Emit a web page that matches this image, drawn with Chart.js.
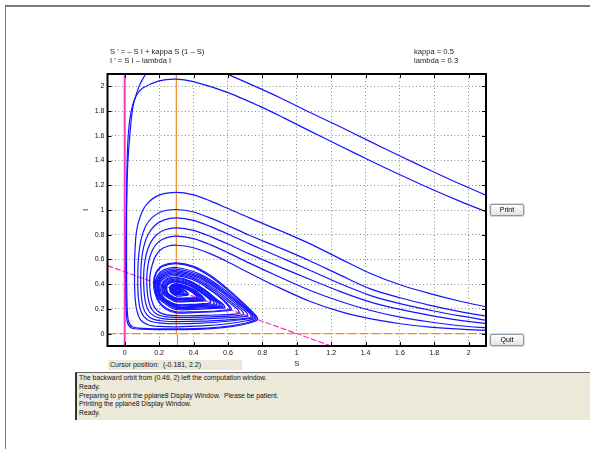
<!DOCTYPE html>
<html>
<head>
<meta charset="utf-8">
<script src="https://cdn.jsdelivr.net/npm/chart.js@4.4.0/dist/chart.umd.min.js"></script>
<style>
  html, body { margin: 0; padding: 0; background: #fff; }
  body { width: 590px; height: 449px; position: relative; overflow: hidden; font-family: "Liberation Sans", Arial, sans-serif; }
  #frame { position: absolute; left: 5px; top: 5px; width: 600px; height: 460px; border-top: 2px solid #7a7a7a; border-left: 1px solid #7a7a7a; }
  #plot { position: absolute; left: 0; top: 0; }
  .eq { position: absolute; font-size: 7.6px; line-height: 9.5px; color: #222; white-space: pre; }
  .btn { position: absolute; left: 490px; width: 32px; height: 10px; border: 1px solid #8a99a8; border-radius: 2px;
         background: linear-gradient(#ffffff, #e4e4de); box-shadow: 0 0 0 1px #d8d8d8; font-size: 7px; line-height: 10px; text-align: center; color: #000; }
  #cursor { position: absolute; left: 108px; top: 360px; width: 132px; height: 10px; padding-left: 2px; background: #ece9d8; font-size: 7px; line-height: 10px; color: #111; white-space: pre; }
  #msgs { position: absolute; left: 75px; top: 372px; width: 530px; height: 45px; padding: 1px 2px; background: #ece9d8;
          border-left: 2px solid #333; border-top: 1px solid #666; font-size: 6.8px; line-height: 8.8px; color: #111; white-space: pre; }
</style>
</head>
<body>
<div id="frame"></div>
<canvas id="plot" width="590" height="449"></canvas>
<div class="eq" style="left:110px;top:47px">S ' = – S I + kappa S (1 – S)</div>
<div class="eq" style="left:110px;top:56px">I ' = S I – lambda I</div>
<div class="eq" style="left:414px;top:47px">kappa = 0.5</div>
<div class="eq" style="left:414px;top:56px">lambda = 0.3</div>
<div class="btn" style="top:204px">Print</div>
<div class="btn" style="top:334px">Quit</div>
<div id="cursor">Cursor position:  (-0.181, 2.2)</div>
<div id="msgs">The backward orbit from (0.46, 2) left the computation window.
Ready.
Preparing to print the pplane8 Display Window.  Please be patient.
Printing the pplane8 Display Window.
Ready.</div>
<script>
// window and ticks of the S-I plane
const sRange = [-0.1, 2.1];
const iRange = [-0.1, 2.1];
const sTicks = [0, 0.2, 0.4, 0.6, 0.8, 1, 1.2, 1.4, 1.6, 1.8, 2];
const iTicks = [0, 0.2, 0.4, 0.6, 0.8, 1, 1.2, 1.4, 1.6, 1.8, 2];

// nullclines: S' = 0 (magenta), I' = 0 (orange)
const sNullAxis = [[0, -0.1], [0, 2.1]];
const sNullLine = [[-0.1, 0.55], [1.2, -0.1]];
const iNullVertical = [[0.3, 2.1], [0.3, 0.01], [0.307, -0.02], [0.307, -0.1]];
const iNullAxis = [[-0.1, 0], [2.1, 0]];

// orbits, [S, I] pairs
const orbitA1 = [[2.12, 1.108], [1.95, 1.21], [1.775, 1.322], [1.6, 1.437], [1.425, 1.555], [1.25, 1.675], [1.075, 1.79],
  [0.9, 1.91], [0.726, 2.02], [0.62, 2.085], [0.57, 2.115]];
const orbitA2 = [[0.135, 2.13], [0.105, 2.06], [0.083, 2.0], [0.048, 1.835], [0.029, 1.59], [0.016, 1.32], [0.009, 0.92], [0.007, 0.5],
  [0.009, 0.2], [0.016, 0.09], [0.04, 0.046], [0.1, 0.036], [0.3, 0.032], [0.5, 0.04], [0.62, 0.057], [0.71, 0.08], [0.758, 0.1], [0.772, 0.115],
  [0.765, 0.142], [0.74, 0.18], [0.7, 0.235], [0.6, 0.36], [0.5, 0.47], [0.4, 0.545], [0.3, 0.572], [0.22, 0.55], [0.18, 0.49], [0.168, 0.416],
  [0.175, 0.33], [0.2, 0.25], [0.24, 0.198], [0.3, 0.168], [0.4, 0.17], [0.5, 0.175], [0.58, 0.183], [0.62, 0.19],
  [0.612, 0.22], [0.55, 0.3], [0.47, 0.38], [0.39, 0.44], [0.3, 0.47], [0.24, 0.455], [0.212, 0.425], [0.205, 0.397], [0.212, 0.33], [0.24, 0.27],
  [0.3, 0.235], [0.38, 0.237], [0.45, 0.242], [0.49, 0.246], [0.5, 0.25],
  [0.492, 0.28], [0.44, 0.34], [0.38, 0.39], [0.3, 0.42], [0.258, 0.405], [0.24, 0.38], [0.245, 0.33], [0.265, 0.295], [0.3, 0.278],
  [0.36, 0.28], [0.4, 0.284], [0.42, 0.29],
  [0.405, 0.325], [0.355, 0.375], [0.3, 0.395], [0.272, 0.385], [0.262, 0.369], [0.268, 0.335], [0.3, 0.305], [0.34, 0.307], [0.37, 0.315],
  [0.352, 0.348], [0.3, 0.375], [0.285, 0.368], [0.283, 0.358], [0.29, 0.34], [0.3, 0.33], [0.325, 0.331], [0.335, 0.3325], [0.322, 0.352],
  [0.3, 0.362], [0.292, 0.354], [0.3, 0.345], [0.31, 0.35], [0.3, 0.355]];
const orbitB = [[2.12, 0.975], [1.95, 1.07], [1.775, 1.174], [1.6, 1.285], [1.425, 1.4], [1.25, 1.52], [1.075, 1.64], [0.925, 1.745],
  [0.783, 1.84], [0.589, 1.955], [0.394, 2.04], [0.3, 2.059],
  [0.2, 2.045], [0.103, 1.984], [0.064, 1.916], [0.035, 1.78], [0.02, 1.59], [0.013, 1.32], [0.011, 0.92], [0.011, 0.5], [0.014, 0.22],
  [0.022, 0.1], [0.045, 0.056], [0.1, 0.043], [0.3, 0.039], [0.5, 0.047], [0.62, 0.064], [0.705, 0.086], [0.75, 0.105], [0.764, 0.118],
  [0.757, 0.145], [0.73, 0.185], [0.69, 0.24], [0.59, 0.362], [0.49, 0.468], [0.395, 0.54], [0.3, 0.566], [0.222, 0.545], [0.183, 0.487],
  [0.172, 0.414], [0.18, 0.33], [0.205, 0.252], [0.245, 0.203], [0.3, 0.176], [0.4, 0.177], [0.5, 0.181], [0.58, 0.19], [0.61, 0.195],
  [0.603, 0.225], [0.545, 0.305], [0.47, 0.38]];
const orbitC = [[2.12, 0.212], [1.95, 0.262], [1.775, 0.324], [1.6, 0.395], [1.425, 0.488], [1.25, 0.607], [1.075, 0.728], [0.9, 0.835],
  [0.725, 0.936], [0.6, 1.012], [0.5, 1.072], [0.4, 1.122],
  [0.3, 1.142], [0.2, 1.12], [0.132, 1.053], [0.093, 0.958], [0.068, 0.823], [0.058, 0.607], [0.057, 0.45], [0.06, 0.3], [0.07, 0.19],
  [0.093, 0.11], [0.14, 0.07], [0.2, 0.058], [0.3, 0.055], [0.45, 0.062], [0.6, 0.08], [0.7, 0.102], [0.745, 0.116], [0.756, 0.122],
  [0.748, 0.152], [0.688, 0.229], [0.574, 0.362], [0.437, 0.481], [0.3, 0.535], [0.227, 0.516], [0.19, 0.467], [0.178, 0.411], [0.188, 0.303],
  [0.239, 0.238], [0.3, 0.195], [0.44, 0.199], [0.55, 0.206], [0.58, 0.21],
  [0.574, 0.235], [0.538, 0.274], [0.468, 0.352], [0.384, 0.423], [0.3, 0.455], [0.249, 0.446], [0.224, 0.421], [0.215, 0.393], [0.222, 0.325],
  [0.258, 0.285], [0.3, 0.258], [0.385, 0.26], [0.44, 0.263], [0.47, 0.265],
  [0.462, 0.285], [0.42, 0.34], [0.36, 0.385], [0.3, 0.405], [0.268, 0.39], [0.262, 0.369], [0.27, 0.335], [0.3, 0.315], [0.35, 0.318],
  [0.365, 0.3175], [0.345, 0.35], [0.3, 0.37], [0.285, 0.355], [0.3, 0.35]];
const orbitD = [[2.12, 0.137], [1.95, 0.178], [1.775, 0.229], [1.6, 0.29], [1.425, 0.364], [1.25, 0.475], [1.075, 0.59], [0.9, 0.695],
  [0.725, 0.796], [0.6, 0.874], [0.5, 0.934], [0.4, 0.984],
  [0.3, 1.004], [0.22, 0.99], [0.16, 0.94], [0.12, 0.865], [0.095, 0.76], [0.08, 0.61], [0.076, 0.46], [0.078, 0.32], [0.088, 0.21],
  [0.11, 0.14], [0.15, 0.1], [0.21, 0.085], [0.3, 0.08], [0.45, 0.085], [0.6, 0.1], [0.69, 0.115], [0.735, 0.124], [0.745, 0.1275],
  [0.737, 0.157], [0.678, 0.23], [0.567, 0.356], [0.434, 0.471], [0.3, 0.522], [0.23, 0.505], [0.195, 0.46], [0.183, 0.4085], [0.192, 0.307],
  [0.242, 0.246], [0.3, 0.205], [0.435, 0.2075], [0.54, 0.2125], [0.57, 0.215],
  [0.564, 0.24], [0.53, 0.276], [0.462, 0.351], [0.381, 0.419], [0.3, 0.45], [0.252, 0.441], [0.228, 0.417], [0.22, 0.39], [0.226, 0.328],
  [0.26, 0.29], [0.3, 0.265], [0.38, 0.2665], [0.43, 0.269], [0.46, 0.27],
  [0.452, 0.29], [0.4, 0.35], [0.34, 0.388], [0.3, 0.398], [0.27, 0.385], [0.266, 0.367], [0.275, 0.335], [0.3, 0.32], [0.345, 0.325],
  [0.33, 0.352], [0.3, 0.365], [0.29, 0.352], [0.3, 0.345]];
const orbitE = [[2.12, 0.104], [1.95, 0.143], [1.775, 0.189], [1.6, 0.243], [1.425, 0.31], [1.25, 0.405], [1.075, 0.513], [0.9, 0.62],
  [0.725, 0.726], [0.6, 0.806], [0.5, 0.866], [0.4, 0.916],
  [0.3, 0.936], [0.23, 0.92], [0.175, 0.875], [0.135, 0.8], [0.11, 0.7], [0.097, 0.58], [0.093, 0.45], [0.096, 0.32], [0.106, 0.22],
  [0.127, 0.155], [0.165, 0.117], [0.22, 0.102], [0.3, 0.097], [0.45, 0.101], [0.6, 0.112], [0.69, 0.122], [0.728, 0.128], [0.735, 0.1325],
  [0.727, 0.162], [0.67, 0.231], [0.561, 0.351], [0.43, 0.461], [0.3, 0.51], [0.233, 0.494], [0.199, 0.453], [0.188, 0.406], [0.197, 0.31],
  [0.244, 0.252], [0.3, 0.213], [0.43, 0.215], [0.53, 0.218], [0.56, 0.22],
  [0.554, 0.245], [0.521, 0.277], [0.456, 0.348], [0.378, 0.411], [0.3, 0.44], [0.256, 0.432], [0.233, 0.41], [0.226, 0.387], [0.232, 0.33],
  [0.263, 0.295], [0.3, 0.272], [0.375, 0.273], [0.42, 0.274], [0.45, 0.275],
  [0.443, 0.295], [0.39, 0.352], [0.34, 0.382], [0.3, 0.392], [0.273, 0.38], [0.27, 0.365], [0.28, 0.335], [0.3, 0.325], [0.335, 0.332],
  [0.325, 0.355], [0.3, 0.362], [0.295, 0.352]];
const orbitF = [[2.12, 0.079], [1.95, 0.108], [1.775, 0.148], [1.6, 0.196], [1.425, 0.257], [1.25, 0.342], [1.075, 0.44], [0.9, 0.54],
  [0.725, 0.645], [0.6, 0.725], [0.5, 0.785], [0.4, 0.835],
  [0.3, 0.855], [0.235, 0.84], [0.185, 0.8], [0.148, 0.73], [0.125, 0.64], [0.113, 0.54], [0.11, 0.445], [0.113, 0.33], [0.123, 0.24],
  [0.143, 0.175], [0.18, 0.137], [0.23, 0.12], [0.3, 0.115], [0.45, 0.118], [0.58, 0.127], [0.66, 0.134], [0.705, 0.14], [0.715, 0.1425],
  [0.707, 0.172], [0.653, 0.235], [0.549, 0.35], [0.425, 0.454], [0.3, 0.5], [0.235, 0.486], [0.203, 0.447], [0.192, 0.404], [0.201, 0.311],
  [0.246, 0.255], [0.3, 0.218], [0.425, 0.22], [0.52, 0.223], [0.55, 0.225],
  [0.544, 0.25], [0.5125, 0.279], [0.45, 0.345], [0.375, 0.405], [0.3, 0.432], [0.259, 0.425], [0.239, 0.405], [0.232, 0.384], [0.237, 0.331],
  [0.266, 0.299], [0.3, 0.278], [0.37, 0.279], [0.41, 0.28], [0.44, 0.28],
  [0.434, 0.3], [0.385, 0.352], [0.335, 0.378], [0.3, 0.386], [0.276, 0.376], [0.274, 0.362], [0.284, 0.338], [0.3, 0.33], [0.33, 0.335],
  [0.32, 0.356], [0.3, 0.36]];
const orbitG = [[2.12, 0.045], [1.95, 0.064], [1.775, 0.094], [1.6, 0.133], [1.425, 0.189], [1.25, 0.262], [1.075, 0.351], [0.9, 0.458],
  [0.725, 0.57], [0.6, 0.655], [0.5, 0.718], [0.4, 0.768],
  [0.3, 0.788], [0.24, 0.775], [0.195, 0.74], [0.163, 0.68], [0.142, 0.6], [0.131, 0.51], [0.128, 0.436], [0.131, 0.34], [0.14, 0.26],
  [0.158, 0.195], [0.19, 0.155], [0.235, 0.137], [0.3, 0.132], [0.45, 0.134], [0.57, 0.139], [0.64, 0.144], [0.68, 0.149], [0.69, 0.155],
  [0.682, 0.184], [0.632, 0.242], [0.534, 0.349], [0.417, 0.446], [0.3, 0.49], [0.238, 0.477], [0.206, 0.441], [0.196, 0.402], [0.204, 0.314],
  [0.248, 0.261], [0.3, 0.226], [0.418, 0.228], [0.505, 0.231], [0.535, 0.2325],
  [0.529, 0.257], [0.5, 0.283], [0.441, 0.344], [0.37, 0.4], [0.3, 0.425], [0.263, 0.419], [0.244, 0.4], [0.238, 0.381], [0.243, 0.332],
  [0.269, 0.303], [0.3, 0.283], [0.365, 0.284], [0.4, 0.2845], [0.43, 0.285],
  [0.424, 0.305], [0.38, 0.352], [0.33, 0.375], [0.3, 0.382], [0.279, 0.373], [0.278, 0.36], [0.287, 0.34], [0.3, 0.335], [0.325, 0.338],
  [0.318, 0.356], [0.3, 0.358]];
const orbitH = [[2.12, 0.026], [1.95, 0.036], [1.775, 0.053], [1.6, 0.08], [1.425, 0.121], [1.25, 0.18], [1.075, 0.262], [0.9, 0.37],
  [0.725, 0.49], [0.6, 0.58], [0.5, 0.645], [0.4, 0.695],
  [0.3, 0.715], [0.245, 0.705], [0.205, 0.675], [0.178, 0.625], [0.16, 0.555], [0.149, 0.49], [0.145, 0.427], [0.148, 0.34], [0.157, 0.27],
  [0.174, 0.21], [0.205, 0.17], [0.245, 0.152], [0.3, 0.145], [0.45, 0.147], [0.56, 0.151], [0.62, 0.155], [0.655, 0.16], [0.665, 0.1675],
  [0.657, 0.196], [0.61, 0.249], [0.519, 0.349], [0.41, 0.439], [0.3, 0.48], [0.24, 0.468], [0.21, 0.436], [0.2, 0.4], [0.208, 0.317],
  [0.25, 0.267], [0.3, 0.234], [0.41, 0.2355], [0.49, 0.2385], [0.52, 0.24],
  [0.514, 0.264], [0.487, 0.286], [0.432, 0.343], [0.366, 0.395], [0.3, 0.418], [0.266, 0.413], [0.25, 0.395], [0.244, 0.378], [0.249, 0.333],
  [0.272, 0.306], [0.3, 0.288], [0.36, 0.289], [0.395, 0.2895], [0.42, 0.29],
  [0.414, 0.31], [0.372, 0.352], [0.327, 0.372], [0.3, 0.378], [0.282, 0.37], [0.281, 0.358], [0.29, 0.343], [0.3, 0.34], [0.32, 0.342],
  [0.312, 0.356], [0.3, 0.357]];

const orbits = [orbitA1, orbitA2, orbitB, orbitC, orbitD, orbitE, orbitF, orbitG, orbitH];

const toXY = (pts) => pts.map(([s, i]) => ({ x: s, y: i }));

function orbitSet(pts) {
  return {
    data: toXY(pts),
    showLine: true,
    borderColor: '#1414ff',
    borderWidth: 1.2,
    pointRadius: 0,
    tension: 0.3,
    clip: 0,
  };
}

function nullclineSet(pts, color, width, dash) {
  return {
    data: toXY(pts),
    showLine: true,
    borderColor: color,
    borderWidth: width,
    borderDash: dash,
    pointRadius: 0,
    tension: 0,
    clip: 0,
  };
}

// frame of the plot window with inward ticks on all four sides
const frameTicks = {
  id: 'frameTicks',
  afterDatasetsDraw(chart) {
    const { ctx, chartArea: a, scales: { x, y } } = chart;
    ctx.save();
    ctx.strokeStyle = '#000';
    ctx.lineWidth = 1;
    ctx.beginPath();
    sTicks.forEach((v) => {
      const px = Math.round(x.getPixelForValue(v)) + 0.5;
      ctx.moveTo(px, a.bottom); ctx.lineTo(px, a.bottom - 4);
      ctx.moveTo(px, a.top); ctx.lineTo(px, a.top + 4);
    });
    iTicks.forEach((v) => {
      const py = Math.round(y.getPixelForValue(v)) + 0.5;
      ctx.moveTo(a.left, py); ctx.lineTo(a.left + 4, py);
      ctx.moveTo(a.right, py); ctx.lineTo(a.right - 4, py);
    });
    ctx.stroke();
    ctx.lineWidth = 2;
    ctx.strokeRect(a.left, a.top, a.right - a.left, a.bottom - a.top);
    ctx.restore();
  },
};

const tickFont = { family: '"Liberation Sans", Arial, sans-serif', size: 7 };
const fmt = (v) => String(Math.round(v * 10) / 10);

new Chart(document.querySelector('#plot'), {
  type: 'scatter',
  data: {
    datasets: [
      ...orbits.map(orbitSet),
      nullclineSet(iNullVertical, '#f08a22', 1.2, []),
      nullclineSet(iNullAxis, '#f08a22', 1.2, [9, 3]),
      nullclineSet(sNullLine, '#ff30c8', 1.2, [6, 2]),
      nullclineSet(sNullAxis, '#ee3ccc', 2, []),
    ],
  },
  options: {
    responsive: false,
    animation: false,
    events: [],
    layout: { padding: { left: 77.5, top: 74, right: 104, bottom: 79 } },
    plugins: { legend: { display: false }, tooltip: { enabled: false } },
    scales: {
      x: {
        type: 'linear',
        min: sRange[0],
        max: sRange[1],
        afterFit: (scale) => { scale.height = 24; },
        afterBuildTicks: (scale) => { scale.ticks = sTicks.map((v) => ({ value: v })); },
        ticks: { autoSkip: false, maxRotation: 0, padding: 3, color: '#111', font: tickFont, callback: fmt },
        grid: { color: '#8c8c8c', lineWidth: 1, drawTicks: false },
        border: { display: false, dash: [1, 2.5] },
        title: { display: true, text: 'S', color: '#111', font: { family: tickFont.family, size: 7.5 }, padding: { top: 0, bottom: 2 } },
      },
      y: {
        type: 'linear',
        min: iRange[0],
        max: iRange[1],
        afterFit: (scale) => { scale.width = 30; },
        afterBuildTicks: (scale) => { scale.ticks = iTicks.map((v) => ({ value: v })); },
        ticks: { autoSkip: false, padding: 3, color: '#111', font: tickFont, callback: fmt },
        grid: { color: '#8c8c8c', lineWidth: 1, drawTicks: false },
        border: { display: false, dash: [1, 2.5] },
        title: { display: true, text: 'I', color: '#111', font: { family: tickFont.family, size: 8 }, padding: { top: 3, bottom: 0 } },
      },
    },
  },
  plugins: [frameTicks],
});
</script>
</body>
</html>
